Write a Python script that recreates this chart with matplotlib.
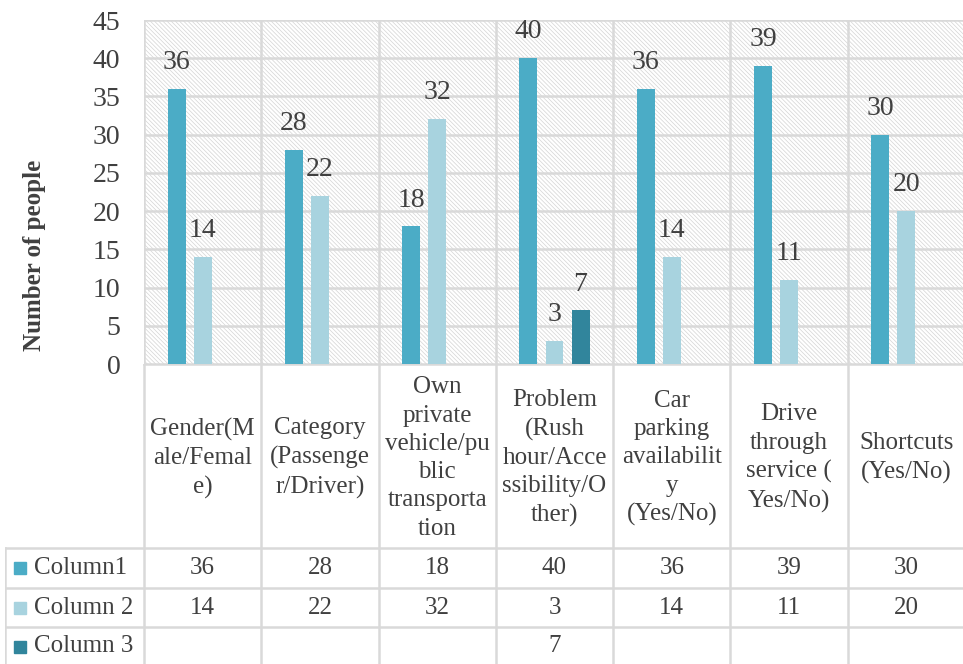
import matplotlib.pyplot as plt
import numpy as np
from matplotlib.patches import Rectangle

# chart data
categories = ['Gender(M\nale/Femal\ne)', 'Category\n(Passenge\nr/Driver)',
              'Own\nprivate\nvehicle/pu\nblic\ntransporta\ntion',
              'Problem\n(Rush\nhour/Acce\nssibility/O\nther)',
              'Car\nparking\navailabilit\ny\n(Yes/No)',
              'Drive\nthrough\nservice (\nYes/No)', 'Shortcuts\n(Yes/No)']
series_names = ['Column1', 'Column 2', 'Column 3']
column1 = [36, 28, 18, 40, 36, 39, 30]
column2 = [14, 22, 32, 3, 14, 11, 20]
column3 = [None, None, None, 7, None, None, None]
colors = ['#4BACC6', '#A8D3DF', '#31859C']

plt.rcParams['font.family'] = ['Liberation Serif', 'DejaVu Serif']
plt.rcParams['hatch.linewidth'] = 0.5
text_color = '#404040'
grid_color = '#d9d9d9'


def main():
    W, H = 963, 664
    fig = plt.figure(figsize=(W / 100, H / 100), dpi=100)
    # plot area
    left, right, bottom, top = 144, 965, 364, 20
    ax = fig.add_axes([left / W, 1 - bottom / H, (right - left) / W, (bottom - top) / H])
    ax.set_xlim(-0.5, 6.5)
    ax.set_ylim(0, 45)
    x = np.arange(len(categories))

    # hatched background
    ax.add_patch(Rectangle((0, 0), 1, 1, transform=ax.transAxes, facecolor='white',
                           edgecolor='#d4d4d4', hatch='\\' * 8, lw=0, zorder=0))

    # grid
    ax.set_yticks(np.arange(0, 46, 5))
    ax.set_xticks(np.arange(-0.5, 7, 1), minor=True)
    ax.set_xticks([])
    ax.grid(axis='y', color=grid_color, lw=1.8, zorder=1)
    ax.grid(axis='x', which='minor', color=grid_color, lw=1.8, zorder=1)
    ax.tick_params(axis='y', length=0, pad=17, labelsize=20, labelcolor=text_color)
    ax.tick_params(axis='x', which='both', length=0)
    for s in ax.spines.values():
        s.set_visible(False)
    ax.set_axisbelow(True)

    # bars
    offset = 0.222
    width = 0.153
    all_series = [column1, column2, column3]
    for i, vals in enumerate(all_series):
        xs = [x[j] + (i - 1) * offset for j in range(len(vals)) if vals[j] is not None]
        ys = [v for v in vals if v is not None]
        bars = ax.bar(xs, ys, width=width, color=colors[i], zorder=3)
        ax.bar_label(bars, padding=10, fontsize=20, color=text_color)

    fig.text(35 / W, 1 - 255 / H, 'Number of people', rotation=90, ha='center', va='center',
             fontsize=18, weight='bold', color=text_color)

    # data table below the plot
    tab = fig.add_axes([5 / W, 0, (965 - 5) / W, (H - bottom) / H])
    xl = -0.5 - (left - 5) / ((right - left) / 7)
    tab.set_xlim(xl, 6.5)
    tab.set_ylim(H - bottom, 0)
    tab.axis('off')
    rows = [0, 184, 224, 263, 302]
    tab.plot([-0.5, 6.5], [0, 0], color=grid_color, lw=1.8)
    for r in rows[1:4]:
        tab.plot([xl, 6.5], [r, r], color=grid_color, lw=1.8)
    for b in np.arange(-0.5, 7, 1):
        tab.plot([b, b], [0, 300], color=grid_color, lw=1.8)
    tab.plot([xl, xl], [184, 300], color=grid_color, lw=1.8)

    for j, c in enumerate(categories):
        tab.text(j, 94, c, ha='center', va='center', fontsize=18, linespacing=1.37,
                 color=text_color)
    for i, vals in enumerate(all_series):
        yc = (rows[i + 1] + rows[i + 2]) / 2
        tab.plot(xl + 0.13, yc, 's', color=colors[i], ms=8)
        tab.text(xl + 0.25, yc, series_names[i], ha='left', va='center', fontsize=18,
                 color=text_color)
        for j, v in enumerate(vals):
            if v is not None:
                tab.text(j, yc, str(v), ha='center', va='center', fontsize=18,
                         color=text_color)

    fig.savefig('out.png', dpi=100)


if __name__ == '__main__':
    main()
